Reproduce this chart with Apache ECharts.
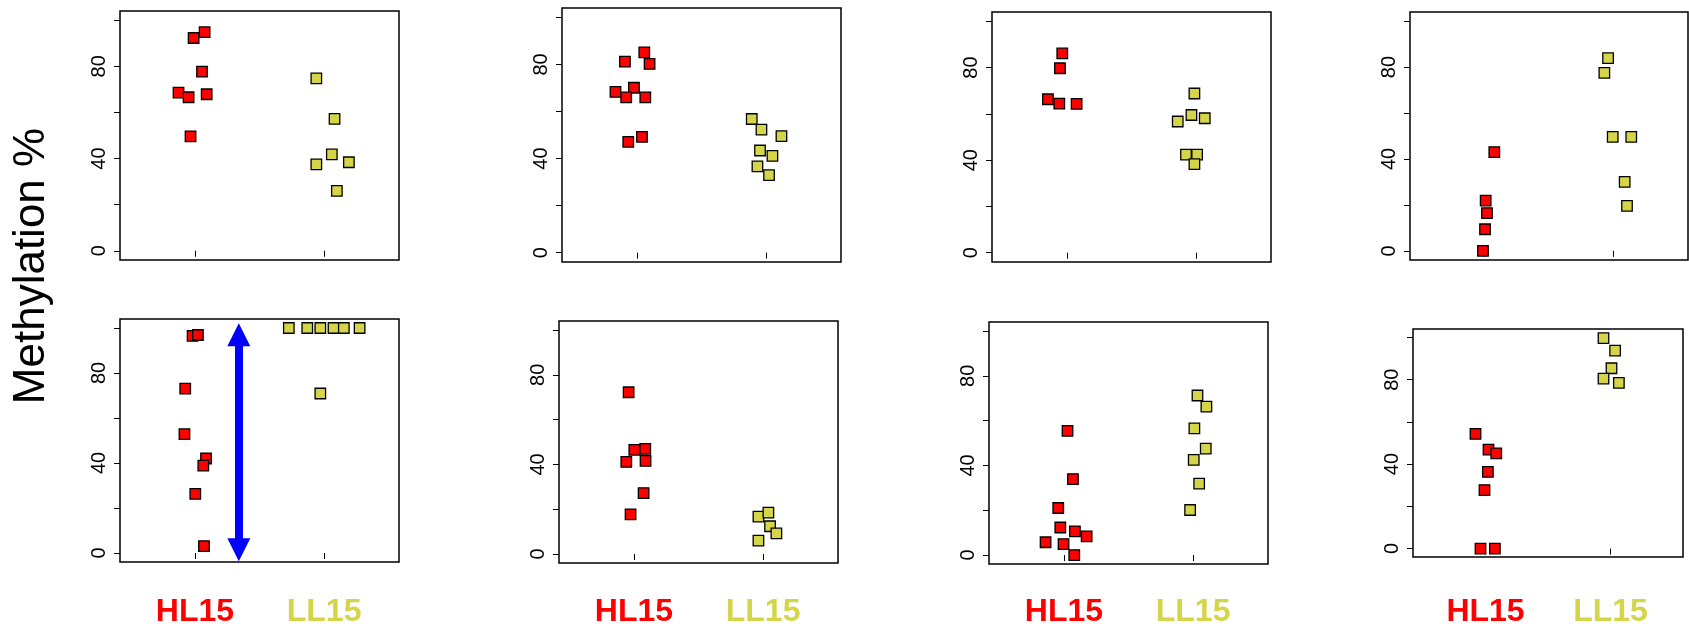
<!DOCTYPE html>
<html>
<head>
<meta charset="utf-8">
<script src="https://cdn.jsdelivr.net/npm/echarts@6/dist/echarts.min.js"></script>
<style>html,body{margin:0;padding:0;background:#fff}#c{width:1689px;height:628px}</style>
</head>
<body>
<div id="c"></div>
<script>
// ---- data (x = jittered group position, y = methylation %) ----
const categories = ['HL15', 'LL15'];
const yTickValues = [0, 20, 40, 60, 80, 100];
const yLabelValues = [0, 40, 80];
const yAxisTitle = 'Methylation %';

const p1HL = [[0.99,92.3],[1.075,94.8],[1.055,77.7],[0.873,68.6],[0.951,66.6],[1.091,67.9],[0.966,49.6]];
const p1LL = [[1.94,74.8],[2.081,57.2],[2.06,41.8],[1.94,37.5],[2.192,38.4],[2.099,26.0]];
const p2HL = [[0.907,81.2],[1.057,85.1],[1.098,80.2],[0.834,68.3],[0.977,70.1],[0.917,66.0],[1.065,66.0],[0.933,47.1],[1.039,49.2]];
const p2LL = [[1.889,56.8],[1.964,52.3],[2.119,49.5],[1.953,43.4],[2.049,41.1],[1.933,36.7],[2.023,32.9]];
const p3HL = [[0.964,86.1],[0.946,79.7],[0.853,66.3],[0.941,64.4],[1.075,64.3]];
const p3LL = [[1.987,68.8],[1.964,59.5],[1.858,56.7],[2.067,58.1],[1.922,42.4],[2.008,42.4],[1.987,38.3]];
const p4HL = [[1.075,43.0],[1.008,21.9],[1.018,16.4],[1.003,9.4],[0.987,0.0]];
const p4LL = [[1.959,83.9],[1.93,77.5],[1.995,49.6],[2.139,49.6],[2.088,30.0],[2.106,19.6]];
const p5HL = [[0.982,96.5],[1.023,96.9],[0.925,73.1],[0.919,52.8],[1.086,42.0],[1.065,38.8],[1.003,26.3],[1.07,3.1]];
const p5LL = [[1.727,100],[1.87,100],[1.971,100],[2.073,100],[2.153,100],[2.275,100],[1.971,70.9]];
const p6HL = [[0.959,72.2],[1.003,46.5],[1.088,46.9],[0.941,41.1],[1.09,41.6],[1.075,27.2],[0.974,17.7]];
const p6LL = [[1.964,16.7],[2.041,18.5],[2.054,12.4],[2.103,9.2],[1.964,6.0]];
const p7HL = [[1.028,55.4],[1.07,33.9],[0.956,21.0],[0.972,12.3],[1.085,10.6],[1.176,8.3],[0.858,5.7],[0.997,4.9],[1.08,0.0]];
const p7LL = [[2.034,71.2],[2.103,66.2],[2.01,56.5],[2.098,47.5],[2.005,42.5],[2.047,31.9],[1.977,20.1]];
const p8HL = [[0.92,54.3],[1.024,46.9],[1.086,45.1],[1.019,36.3],[0.992,27.7],[0.96,0.0],[1.075,0.0]];
const p8LL = [[1.944,99.7],[2.037,93.8],[2.008,85.4],[1.944,80.5],[2.067,78.5]];

// double-headed arrow in panel 5 (x position, from y, to y)
const arrowX = 1.34;
const arrowTop = 97;
const arrowBottom = 1.5;

// ---- layout ----
const panelData = [
  [p1HL, p1LL], [p2HL, p2LL], [p3HL, p3LL], [p4HL, p4LL],
  [p5HL, p5LL], [p6HL, p6LL], [p7HL, p7LL], [p8HL, p8LL]
];
const boxes = [
  {left: 120, top: 11, width: 279, height: 249},
  {left: 562, top: 8, width: 279, height: 254},
  {left: 992, top: 12, width: 279, height: 250},
  {left: 1410, top: 12, width: 278, height: 248},
  {left: 120, top: 319, width: 279, height: 249},
  {left: 559, top: 321, width: 279, height: 248},
  {left: 989, top: 322, width: 279, height: 248},
  {left: 1413, top: 329, width: 270, height: 234}
];
const RED = '#FF0000';
const YEL = '#D5D54A';
const FONT = '"Liberation Sans", Arial, Helvetica, sans-serif';
const LABEL_CENTER_Y = 615;

const grid = [], xAxis = [], yAxis = [], series = [];
boxes.forEach((b, i) => {
  const bottomRow = i >= 4;
  const boxBottom = b.top + b.height;
  grid.push(Object.assign({show: true, borderColor: '#000', borderWidth: 1.5, backgroundColor: 'transparent', containLabel: false}, b));
  xAxis.push({
    type: 'value', gridIndex: i, min: 0.42, max: 2.58,
    axisLine: {show: false}, splitLine: {show: false},
    axisTick: {show: true, customValues: [1, 2], length: 6, lineStyle: {color: '#000', width: 1}},
    axisLabel: bottomRow ? {
      show: true, customValues: [1, 2], margin: LABEL_CENTER_Y - 13 - boxBottom, fontFamily: FONT,
      formatter: v => v === 1 ? '{h|' + categories[0] + '}' : '{l|' + categories[1] + '}',
      rich: {
        h: {color: RED, fontSize: 32, fontWeight: 'bold', fontFamily: FONT},
        l: {color: YEL, fontSize: 32, fontWeight: 'bold', fontFamily: FONT}
      }
    } : {show: false}
  });
  yAxis.push({
    type: 'value', gridIndex: i, min: -4, max: 104,
    axisLine: {show: false}, splitLine: {show: false},
    axisTick: {show: true, customValues: yTickValues, length: 6, lineStyle: {color: '#000', width: 1}},
    axisLabel: {show: true, customValues: yLabelValues, rotate: 90, fontSize: 20, color: '#000', fontFamily: FONT, margin: 11}
  });
  const [hl, ll] = panelData[i];
  const s1 = {
    type: 'scatter', xAxisIndex: i, yAxisIndex: i, data: hl, symbol: 'rect', symbolSize: 10.5,
    itemStyle: {color: RED, borderColor: '#000', borderWidth: 1.3, opacity: 1}, silent: true, z: 3
  };
  const s2 = {
    type: 'scatter', xAxisIndex: i, yAxisIndex: i, data: ll, symbol: 'rect', symbolSize: 10.5,
    itemStyle: {color: YEL, borderColor: '#000', borderWidth: 1.3, opacity: 1}, silent: true, z: 3
  };
  if (i === 4) {
    s1.markLine = {
      silent: true, animation: false,
      symbol: ['triangle', 'triangle'], symbolSize: [23, 23],
      label: {show: false},
      lineStyle: {color: '#0000FF', width: 8, type: 'solid', opacity: 1},
      data: [[{coord: [arrowX, arrowTop]}, {coord: [arrowX, arrowBottom]}]]
    };
  }
  series.push(s1, s2);
});

const chart = echarts.init(document.getElementById('c'), null, {renderer: 'canvas'});
chart.setOption({
  animation: false,
  backgroundColor: '#fff',
  grid, xAxis, yAxis, series,
  graphic: [{
    type: 'text', x: 32, y: 266, rotation: Math.PI / 2,
    style: {text: yAxisTitle, font: '44px ' + FONT, fill: '#000', align: 'center', verticalAlign: 'middle'}
  }]
});
</script>
</body>
</html>
